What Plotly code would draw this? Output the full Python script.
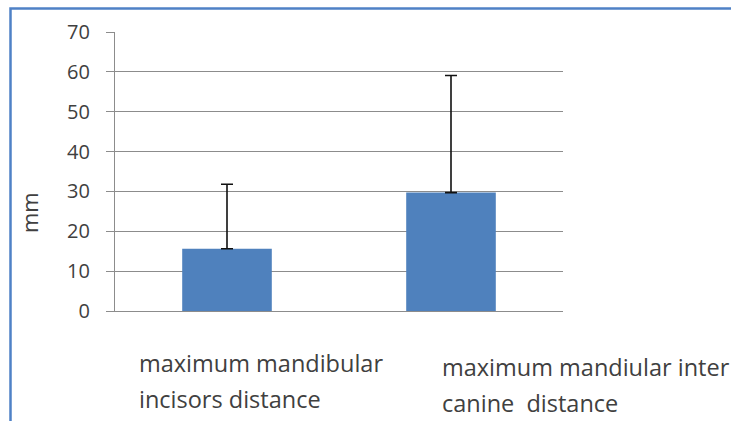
import plotly.graph_objects as go

categories = ["maximum mandibular incisors distance", "maximum mandiular inter canine distance"]
label_lines = [["maximum mandibular", "incisors distance"], ["maximum mandiular inter", "canine  distance"]]
means = [15.6, 29.7]
errors_plus = [16.2, 29.4]
y_ticks = [0, 10, 20, 30, 40, 50, 60, 70]
y_title = "mm"

W, H = 731, 421
L, R, T, B = 115, 168, 32, 110
pw, ph = W - L - R, H - T - B

def px(x):
    return (x - L) / pw

def py(y):
    return (H - B - y) / ph

fig = go.Figure()
fig.add_trace(go.Bar(
    x=categories, y=means,
    marker=dict(color="#4f81bd", line=dict(width=0)),
    error_y=dict(type="data", symmetric=False, array=errors_plus,
                 arrayminus=[0] * len(means), color="#111111",
                 thickness=1.6, width=6),
    width=0.4,
))

text_color = "#404040"
grid = "#8c8c8c"

fig.update_layout(
    width=W, height=H,
    margin=dict(l=L, r=R, t=T, b=B, pad=0),
    paper_bgcolor="white", plot_bgcolor="white",
    showlegend=False,
    font=dict(family="Open Sans", color=text_color),
    xaxis=dict(showticklabels=False, ticks="", showgrid=False,
               showline=True, linecolor=grid, linewidth=1.3, zeroline=False),
    yaxis=dict(range=[0, 70], tickvals=y_ticks, ticktext=[str(v) for v in y_ticks],
               showgrid=True, gridcolor=grid, gridwidth=1.3,
               showline=True, linecolor=grid, linewidth=1.3,
               ticks="outside", ticklen=8, tickcolor=grid, tickwidth=1.3,
               ticklabelstandoff=12,
               tickfont=dict(family="Open Sans", size=20, color=text_color),
               zeroline=False),
)

# category labels (left aligned, two lines each)
starts = [137, 440]
line_y = [[363, 399], [367, 403]]
for i, lines in enumerate(label_lines):
    for j, line in enumerate(lines):
        fig.add_annotation(x=px(starts[i]), y=py(line_y[i][j]), xref="paper", yref="paper",
                           text=line, showarrow=False, xanchor="left", yanchor="middle",
                           font=dict(family="Open Sans", size=23.5, color=text_color))

# y-axis title
fig.add_annotation(x=px(29), y=py(213), xref="paper", yref="paper", text=y_title,
                   showarrow=False, textangle=-90, xanchor="center", yanchor="middle",
                   font=dict(family="Open Sans", size=22, color=text_color))

# outer blue frame (left and top edges visible)
x0, y0 = px(10.5), py(8.5)
fig.add_shape(type="path", xref="paper", yref="paper",
              path=f"M {x0} {py(H + 5)} L {x0} {y0} L {px(W)} {y0}",
              line=dict(color="#4f81c6", width=2.5))

fig.write_html("out.html", config={"displayModeBar": False},
               post_script="document.body.style.margin='0';document.body.style.overflow='hidden';"
                           "document.documentElement.style.overflow='hidden';")
